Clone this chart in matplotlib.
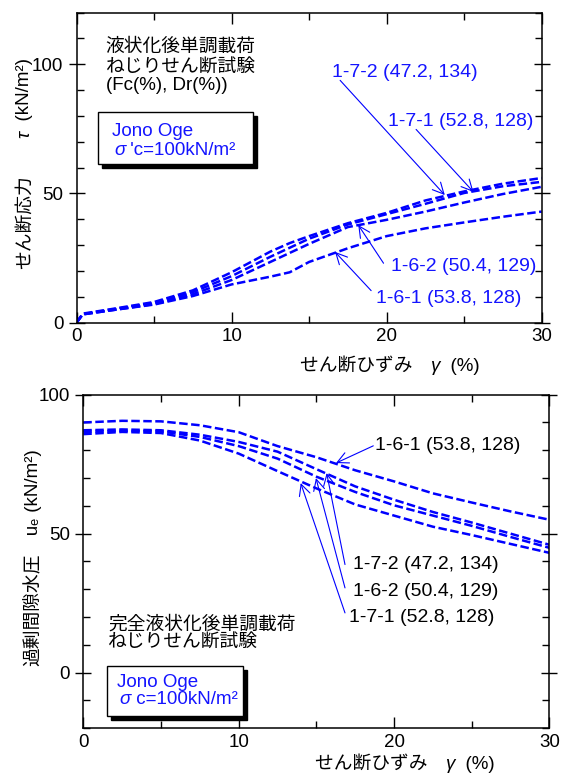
import matplotlib

matplotlib.use("Agg")
import matplotlib.pyplot as plt
import matplotlib.transforms as mtransforms
from matplotlib.patches import Rectangle

FONTS = ["Liberation Sans", "Noto Sans CJK JP", "DejaVu Sans"]
plt.rcParams["font.family"] = FONTS
BLUE = "#0000ff"
TEXT_BLUE = "#1414ff"

# upper panel: shear stress vs shear strain
gamma_top = [0, 0.4, 2.5, 5, 7.5, 10, 12.5, 13.75, 15, 17.5, 20, 22.5, 25, 27.5, 30]
tau_172 = [0, 3.5, 5.5, 8.0, 12.5, 19.5, 27.5, 30.8, 33.5, 38.5, 42.5, 47.3, 50.8, 53.8, 56.0]
tau_171 = [0, 3.3, 5.3, 7.6, 11.8, 18.0, 25.5, 29.0, 32.5, 38.0, 42.0, 46.0, 50.2, 52.8, 54.5]
tau_162 = [0, 3.2, 5.0, 7.2, 11.0, 16.5, 23.5, 27.0, 30.5, 37.0, 39.8, 43.0, 46.5, 49.8, 52.6]
tau_161 = [0, 3.2, 5.0, 7.0, 10.3, 14.8, 17.8, 19.5, 23.5, 28.8, 33.5, 36.5, 38.8, 41.0, 43.0]

# lower panel: excess pore water pressure vs shear strain
gamma_bot = [0, 2.5, 5, 7.5, 10, 12.5, 15, 17.5, 20, 22.5, 25, 27.5, 30]
ue_161 = [90.0, 90.6, 90.4, 89.0, 86.5, 81.5, 77.5, 72.8, 68.8, 64.5, 61.2, 58.0, 55.0]
ue_172 = [87.2, 87.5, 87.2, 85.6, 83.0, 79.5, 73.2, 67.0, 62.2, 57.8, 54.0, 50.0, 46.0]
ue_162 = [86.6, 87.0, 86.8, 84.8, 81.5, 77.0, 70.5, 65.0, 60.2, 56.5, 52.8, 48.8, 44.9]
ue_171 = [85.8, 86.6, 86.2, 83.5, 78.8, 72.5, 66.3, 60.5, 56.5, 52.5, 49.5, 46.3, 43.1]

labels_top = ["1-7-2 (47.2, 134)", "1-7-1 (52.8, 128)", "1-6-2 (50.4, 129)", "1-6-1 (53.8, 128)"]
labels_bot = ["1-6-1 (53.8, 128)", "1-7-2 (47.2, 134)", "1-6-2 (50.4, 129)", "1-7-1 (52.8, 128)"]

DASH = (0, (3.4, 1.4))
ARROW = dict(arrowstyle="->", color=BLUE, lw=0.8, mutation_scale=20, shrinkA=0, shrinkB=0)


def style_axes(ax, ymin, ymax):
    ax.set_xlim(0, 30)
    ax.set_ylim(ymin, ymax)
    ax.set_xticks([0, 10, 20, 30])
    ax.set_xticks([5, 15, 25], minor=True)
    ax.set_yticks(range(0, ymax + 1, 50))
    ax.set_yticks([v for v in range(ymin, ymax + 1, 10) if v % 50], minor=True)
    ax.tick_params(which="both", direction="in", top=True, right=True, labelsize=13.5, width=1)
    ax.tick_params(which="major", length=8, pad=4)
    ax.tick_params(axis="y", which="major", direction="inout", length=11)
    ax.tick_params(which="minor", length=5)
    for sp in ax.spines.values():
        sp.set_linewidth(1.1)


def draw_box(ax, fig, x0, y0, x1, y1):
    shadow = mtransforms.offset_copy(ax.transData, fig=fig, x=4, y=-4, units="dots")
    ax.add_patch(Rectangle((x0, y0), x1 - x0, y1 - y0, transform=shadow,
                           facecolor="black", edgecolor="black", zorder=4))
    ax.add_patch(Rectangle((x0, y0), x1 - x0, y1 - y0, facecolor="white",
                           edgecolor="black", lw=1, zorder=5))


def chain(ax, parts, x, y, rotation=0, **kw):
    # write consecutive text pieces, each starting where the previous ends
    first, style = parts[0]
    t = ax.text(x, y, first, style=style, rotation=rotation, va="center",
                ha="left" if rotation == 0 else "center", **kw)
    for s, style in parts[1:]:
        if rotation == 0:
            t = ax.annotate(s, xy=(1, 0.5), xycoords=t, style=style, va="center", ha="left", **kw)
        else:
            t = ax.annotate(s, xy=(0.5, 1), xycoords=t, style=style, rotation=rotation,
                            va="bottom", ha="center", **kw)
    return t


fig = plt.figure(figsize=(5.61, 7.76), dpi=100)

# ---- top panel ----
ax1 = fig.add_axes([0.1364, 0.5842, 0.8292, 0.3995])
for tau in (tau_172, tau_171, tau_162, tau_161):
    ax1.plot(gamma_top, tau, color=BLUE, lw=1.8, linestyle=DASH)
style_axes(ax1, 0, 120)

ax1.text(1.88, 106.7, "液状化後単調載荷", fontsize=13.5, va="center")
ax1.text(1.88, 99.0, "ねじりせん断試験", fontsize=13.5, va="center")
ax1.text(1.88, 91.8, "(Fc(%), Dr(%))", fontsize=13.5, va="center")

draw_box(ax1, fig, 1.41, 61.6, 11.36, 81.6)
ax1.text(2.27, 74.1, "Jono Oge", color=TEXT_BLUE, fontsize=13.5, va="center", zorder=6)
chain(ax1, [("σ", "italic"), (" 'c=100kN/m²", "normal")], 2.42, 66.8,
      color=TEXT_BLUE, fontsize=13.5, zorder=6)

top_text_pos = [(16.5, 97.0), (20.1, 77.7), (20.3, 21.6), (19.3, 9.4)]
top_arrow_from = [(17.0, 93.8), (21.9, 74.8), (19.8, 23.0), (19.0, 12.4)]
top_arrow_to = [(23.75, 49.4), (25.6, 50.6), (18.17, 37.8), (16.67, 27.4)]
for lab, tp, a0, a1 in zip(labels_top, top_text_pos, top_arrow_from, top_arrow_to):
    ax1.text(tp[0], tp[1], lab, color=TEXT_BLUE, fontsize=14, va="center")
    ax1.annotate("", xy=a1, xytext=a0, arrowprops=ARROW)

chain(ax1, [("せん断ひずみ　", "normal"), ("γ", "italic"), ("  (%)", "normal")],
      0.48, -0.14, transform=ax1.transAxes, fontsize=13.5)
chain(ax1, [("せん断応力", "normal"), ("　　", "normal"), ("τ", "italic"),
            ("  (kN/m²)", "normal")],
      -0.111, 0.325, rotation=90, transform=ax1.transAxes, fontsize=13.5)

# ---- bottom panel ----
ax2 = fig.add_axes([0.1485, 0.0615, 0.831, 0.4299])
for ue in (ue_161, ue_172, ue_162, ue_171):
    ax2.plot(gamma_bot, ue, color=BLUE, lw=1.8, linestyle=DASH)
style_axes(ax2, -20, 100)

ax2.text(1.61, 17.3, "完全液状化後単調載荷", fontsize=13.5, va="center")
ax2.text(1.61, 10.8, "ねじりせん断試験", fontsize=13.5, va="center")

draw_box(ax2, fig, 1.51, -15.6, 10.3, 2.4)
ax2.text(2.15, -3.4, "Jono Oge", color=TEXT_BLUE, fontsize=13.5, va="center", zorder=6)
chain(ax2, [("σ", "italic"), (" c=100kN/m²", "normal")], 2.32, -9.8,
      color=TEXT_BLUE, fontsize=13.5, zorder=6)

bot_text_pos = [(18.8, 81.7), (17.33, 38.9), (17.33, 29.3), (17.1, 19.7)]
bot_arrow_from = [(18.66, 81.6), (16.84, 38.9), (16.84, 30.5), (16.84, 21.5)]
bot_arrow_to = [(16.26, 75.4), (15.66, 71.8), (14.97, 70.0), (13.99, 68.2)]
for lab, tp, a0, a1 in zip(labels_bot, bot_text_pos, bot_arrow_from, bot_arrow_to):
    ax2.text(tp[0], tp[1], lab, color="black", fontsize=14, va="center")
    ax2.annotate("", xy=a1, xytext=a0, arrowprops=ARROW)

chain(ax2, [("せん断ひずみ　", "normal"), ("γ", "italic"), ("  (%)", "normal")],
      0.496, -0.109, transform=ax2.transAxes, fontsize=13.5)
chain(ax2, [("過剰間隙水圧", "normal"), ("　uₑ", "normal"), (" (kN/m²)", "normal")],
      -0.106, 0.355, rotation=90, transform=ax2.transAxes, fontsize=13.5)

fig.savefig("out.png", dpi=100)
